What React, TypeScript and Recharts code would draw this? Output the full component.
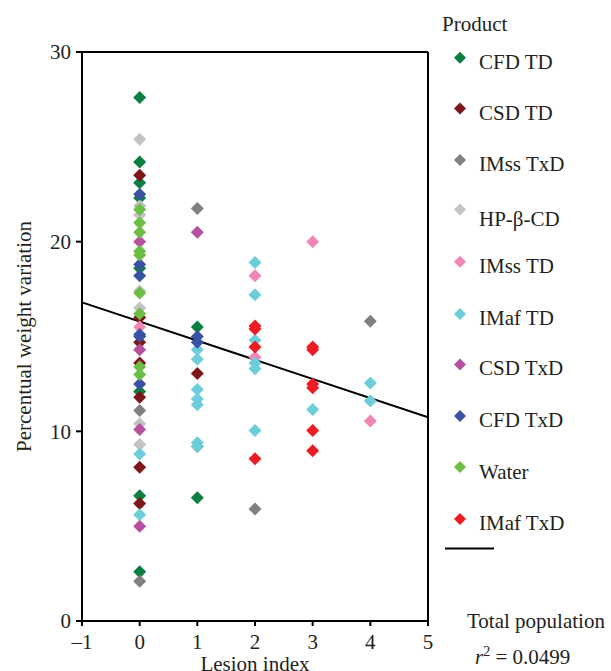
import React from 'react';
import { ScatterChart, Scatter, XAxis, YAxis, ReferenceLine } from 'recharts';

// ---- data (x = lesion index, y = percentual weight variation) ----
const cfdTD: number[][] = [[0, 27.6], [0, 24.2], [0, 23.1], [0, 22.3], [0, 18.6], [0, 12.1], [0, 6.6], [0, 2.6], [1, 15.5], [1, 6.5]];
const csdTD: number[][] = [[0, 23.5], [0, 16.0], [0, 14.7], [0, 13.6], [0, 11.8], [0, 8.1], [0, 6.2], [1, 13.05]];
const imssTxD: number[][] = [[0, 11.1], [0, 2.1], [1, 21.75], [1, 9.2], [2, 5.9], [4, 15.8]];
const hpbCD: number[][] = [[0, 25.4], [0, 21.9], [0, 21.4], [0, 17.4], [0, 16.5], [0, 10.4], [0, 9.3]];
const imssTD: number[][] = [[0, 15.5], [2, 18.2], [2, 13.9], [3, 20.0], [4, 10.55]];
const imafTD: number[][] = [[0, 8.8], [0, 5.6], [1, 14.3], [1, 13.8], [1, 12.2], [1, 11.7], [1, 11.4], [1, 9.4], [1, 9.2], [2, 18.9], [2, 17.2], [2, 14.8], [2, 13.6], [2, 13.3], [2, 10.05], [3, 11.15], [4, 12.55], [4, 11.6]];
const csdTxD: number[][] = [[0, 20.0], [0, 14.3], [0, 10.1], [0, 5.0], [1, 20.5]];
const cfdTxD: number[][] = [[0, 22.5], [0, 18.8], [0, 18.2], [0, 15.1], [0, 15.0], [0, 12.5], [1, 15.0], [1, 14.7]];
const water: number[][] = [[0, 21.7], [0, 21.0], [0, 20.5], [0, 19.5], [0, 19.3], [0, 17.3], [0, 16.2], [0, 13.4], [0, 13.0]];
const imafTxD: number[][] = [[2, 15.55], [2, 15.4], [2, 14.45], [2, 8.55], [3, 14.45], [3, 14.3], [3, 12.5], [3, 12.3], [3, 10.05], [3, 8.97]];

const productNames = ['CFD TD', 'CSD TD', 'IMss TxD', 'HP-β-CD', 'IMss TD', 'IMaf TD', 'CSD TxD', 'CFD TxD', 'Water', 'IMaf TxD'];
const productColors = ['#0b7f3f', '#7e1518', '#808080', '#c3c3c3', '#f287b7', '#6dcddb', '#b5519f', '#3952a3', '#6cbd45', '#ec1c24'];
const productData = [cfdTD, csdTD, imssTxD, hpbCD, imssTD, imafTD, csdTxD, cfdTxD, water, imafTxD];

const xTicks = [-1, 0, 1, 2, 3, 4, 5];
const yTicks = [0, 10, 20, 30];
const regression = [{ x: -1, y: 16.8 }, { x: 5, y: 10.74 }];
const r2Value = '0.0499';

const FONT = "'Liberation Serif', 'Times New Roman', serif";
const INK = '#231f20';

const makeDiamond = (color: string) => (props: any) => {
  const { cx, cy } = props;
  if (cx == null || cy == null) return <g />;
  const r = 6.5;
  return (
    <polygon
      points={`${cx},${cy - r} ${cx + r},${cy} ${cx},${cy + r} ${cx - r},${cy}`}
      fill={color}
    />
  );
};

const legendDiamondY = [57.7, 108.5, 160, 209.5, 261.7, 314, 364.5, 416, 467, 519];
const legendTextY = [69, 120, 171, 226, 273, 324.5, 375, 427, 478.5, 529.5];

export default function App() {
  const series = productNames.map((name, i) => ({
    name,
    color: productColors[i],
    data: productData[i].map(([x, y]) => ({ x, y })),
  }));

  return (
    <div style={{ position: 'absolute', left: 0, top: 0, width: 611, height: 671, background: '#fff' }}>
      <ScatterChart
        width={611}
        height={671}
        margin={{ top: 52, right: 183, bottom: 10, left: 32 }}
        style={{ fontFamily: FONT }}
      >
        <XAxis
          type="number"
          dataKey="x"
          domain={[-1, 5]}
          ticks={xTicks}
          allowDataOverflow
          height={40}
          tickSize={5}
          tickMargin={8}
          axisLine={{ stroke: '#000', strokeWidth: 2 }}
          tickLine={{ stroke: '#000', strokeWidth: 2 }}
          tick={{ fill: INK, fontSize: 21, fontFamily: FONT }}
          tickFormatter={(v: number) => (v < 0 ? `–${Math.abs(v)}` : `${v}`)}
          label={(p: any) => {
            const vb = p.viewBox || { x: 82, y: 620, width: 346 };
            return (
              <text
                x={vb.x + vb.width / 2}
                y={vb.y + 50}
                textAnchor="middle"
                fill={INK}
                fontSize={21}
                fontFamily={FONT}
              >
                Lesion index
              </text>
            );
          }}
        />
        <YAxis
          type="number"
          dataKey="y"
          domain={[0, 30]}
          ticks={yTicks}
          allowDataOverflow
          width={50}
          tickSize={6}
          tickMargin={5}
          axisLine={{ stroke: '#000', strokeWidth: 2 }}
          tickLine={{ stroke: '#000', strokeWidth: 2 }}
          tick={{ fill: INK, fontSize: 21, fontFamily: FONT }}
          label={(p: any) => {
            const vb = p.viewBox || { x: 32, y: 52, width: 50, height: 568 };
            const cx = 24;
            const cy = vb.y + vb.height / 2;
            return (
              <text
                x={cx}
                y={cy}
                transform={`rotate(-90, ${cx}, ${cy})`}
                textAnchor="middle"
                dominantBaseline="central"
                fill={INK}
                fontSize={21}
                fontFamily={FONT}
              >
                Percentual weight variation
              </text>
            );
          }}
        />
        <ReferenceLine y={30} stroke="#000" strokeWidth={2} />
        <ReferenceLine x={5} stroke="#000" strokeWidth={2} />
        {series.map((s) => (
          <Scatter
            key={s.name}
            name={s.name}
            data={s.data}
            fill={s.color}
            shape={makeDiamond(s.color)}
            isAnimationActive={false}
          />
        ))}
        <ReferenceLine segment={regression} stroke="#000" strokeWidth={2} />
      </ScatterChart>

      <svg
        width={611}
        height={671}
        style={{ position: 'absolute', left: 0, top: 0, pointerEvents: 'none' }}
      >
        <text x={442} y={31} fill={INK} fontSize={21} fontFamily={FONT}>Product</text>
        {series.map((s, i) => {
          const cy = legendDiamondY[i];
          const r = 6;
          return (
            <g key={s.name}>
              <polygon points={`460,${cy - r} ${460 + r},${cy} 460,${cy + r} ${460 - r},${cy}`} fill={s.color} />
              <text x={479} y={legendTextY[i]} fill={INK} fontSize={21} fontFamily={FONT}>{s.name}</text>
            </g>
          );
        })}
        <line x1={445} y1={548.5} x2={494} y2={548.5} stroke="#000" strokeWidth={2} />
        <text x={467} y={628} fill={INK} fontSize={21} fontFamily={FONT}>Total population</text>
        <text x={475} y={664} fill={INK} fontSize={21} fontFamily={FONT}>
          <tspan fontStyle="italic">r</tspan>
          <tspan dy={-8} fontSize={14}>2</tspan>
          <tspan dy={8}>{` = ${r2Value}`}</tspan>
        </text>
      </svg>
    </div>
  );
}
